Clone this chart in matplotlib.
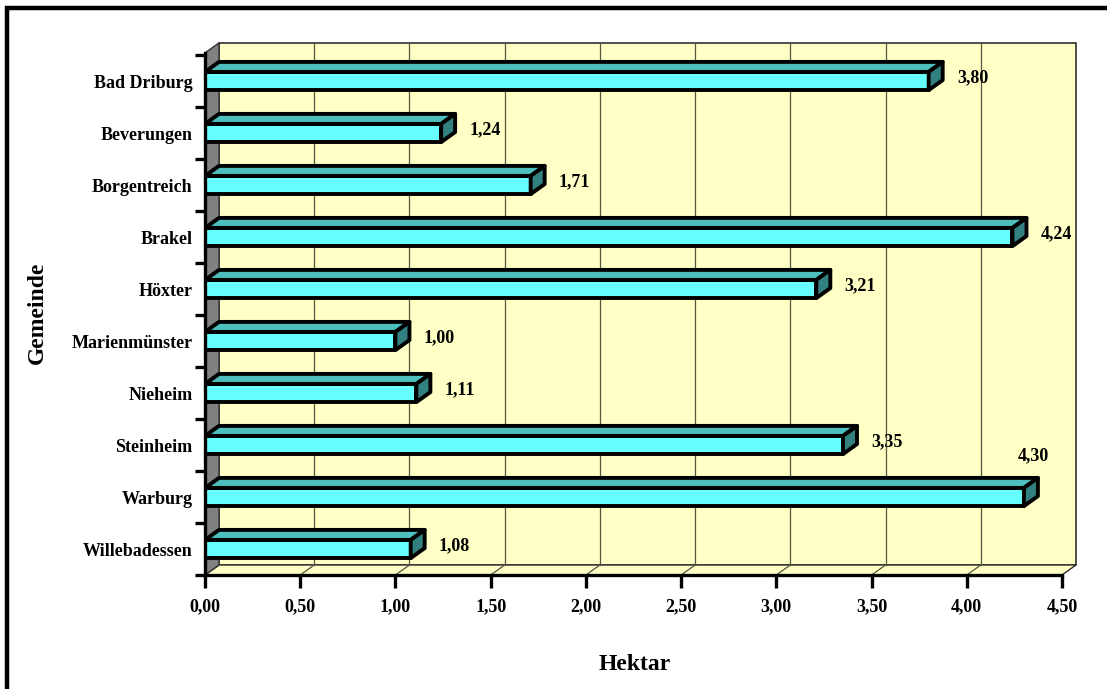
import matplotlib
matplotlib.use("Agg")
import matplotlib.pyplot as plt
from matplotlib.patches import Polygon, Rectangle

plt.rcParams['font.family'] = ['Liberation Serif', 'DejaVu Serif']
plt.rcParams['font.weight'] = 'bold'

# data
gemeinden = ["Bad Driburg", "Beverungen", "Borgentreich", "Brakel", "Höxter",
             "Marienmünster", "Nieheim", "Steinheim", "Warburg", "Willebadessen"]
hektar = [3.80, 1.24, 1.71, 4.24, 3.21, 1.00, 1.11, 3.35, 4.30, 1.08]
xticks = [0.0, 0.5, 1.0, 1.5, 2.0, 2.5, 3.0, 3.5, 4.0, 4.5]

W, H = 1107, 689
fig = plt.figure(figsize=(W / 100, H / 100), dpi=100)

# axes box in pixels (front plane: x 0 at 205px, 4.5 at 1062px; category = 52px)
left, right, top, bottom = 205, 1090, 40, 575
ax = fig.add_axes([left / W, 1 - bottom / H, (right - left) / W, (bottom - top) / H])
pxx = (1062 - 205) / 4.5
pxy = 52.0
ax.set_xlim(0, (right - left) / pxx)
ax.set_ylim(0, (bottom - top) / pxy)

dx = 14 / pxx   # 3d depth
dy = 10 / pxy
xmax = 4.5
ytop = 10.04
yellow = "#FFFFC6"
edge = "#303030"
fs = 13

# back wall, floor, side wall
ax.add_patch(Rectangle((dx, dy), xmax, ytop, facecolor=yellow, edgecolor=edge, lw=1.2, zorder=1))
ax.add_patch(Polygon([(0, 0), (xmax, 0), (xmax + dx, dy), (dx, dy)], closed=True,
                     facecolor=yellow, edgecolor=edge, lw=1.0, zorder=1))
ax.add_patch(Polygon([(0, 0), (dx, dy), (dx, ytop + dy), (0, ytop)], closed=True,
                     facecolor="#808080", edgecolor=edge, lw=1.0, zorder=1))
for xt in xticks[1:-1]:
    ax.plot([xt + dx, xt + dx], [dy, ytop + dy], color="#555540", lw=0.9, zorder=2)
    ax.plot([xt, xt + dx], [0, dy], color="#555540", lw=0.9, zorder=2)

# bars
n = len(gemeinden)
h = 0.35
for i, (name, v) in enumerate(zip(gemeinden, hektar)):
    c = n - 0.5 - i
    y0, y1 = c - h / 2, c + h / 2
    ax.add_patch(Rectangle((0, y0), v, h, facecolor="#66FFFF", edgecolor="black",
                           lw=2.8, joinstyle="round", zorder=3))
    ax.add_patch(Polygon([(0, y1), (v, y1), (v + dx, y1 + dy), (dx, y1 + dy)], closed=True,
                         facecolor="#4DBFBF", edgecolor="black", lw=2.8, joinstyle="round", zorder=3))
    ax.add_patch(Polygon([(v, y0), (v + dx, y0 + dy), (v + dx, y1 + dy), (v, y1)], closed=True,
                         facecolor="#338080", edgecolor="black", lw=2.8, joinstyle="round", zorder=3))
    label = f"{v:.2f}".replace(".", ",")
    if v >= 4.3:
        ax.text(v + 0.05, c + 0.79, label, ha="center", va="center", fontsize=fs, zorder=4)
    else:
        ax.text(v + 0.23, c + 0.07, label, ha="center", va="center", fontsize=fs, zorder=4)

# axes
for s in ["top", "right"]:
    ax.spines[s].set_visible(False)
ax.spines["left"].set_bounds(0, ytop)
ax.spines["bottom"].set_bounds(0, xmax)
ax.spines["left"].set_linewidth(2.4)
ax.spines["bottom"].set_linewidth(2.4)
ax.spines["left"].set_zorder(5)
ax.spines["bottom"].set_zorder(5)

ax.set_xticks(xticks)
ax.set_xticklabels([f"{t:.2f}".replace(".", ",") for t in xticks], fontsize=fs)
ax.tick_params(axis="x", direction="out", length=9, width=2.4, pad=8)

ax.set_yticks(range(n + 1))
ax.set_yticklabels([])
ax.tick_params(axis="y", which="major", direction="out", length=7, width=2.4)
ax.set_yticks([n - 0.5 - i for i in range(n)], minor=True)
ax.set_yticklabels(gemeinden, minor=True, fontsize=fs)
ax.tick_params(axis="y", which="minor", length=0, pad=9)

fig.text(635 / W, 1 - 665 / H, "Hektar", ha="center", va="center", fontsize=17)
fig.text(37 / W, 1 - 313 / H, "Gemeinde", ha="center", va="center", fontsize=17, rotation=90)

# outer frame (runs past right and bottom edge)
fig.patches.append(Rectangle((7 / W, -0.2), 1.2, 1.2 - 8 / H, transform=fig.transFigure,
                             fill=False, edgecolor="black", lw=3.2))

fig.savefig("out.png", dpi=100)
